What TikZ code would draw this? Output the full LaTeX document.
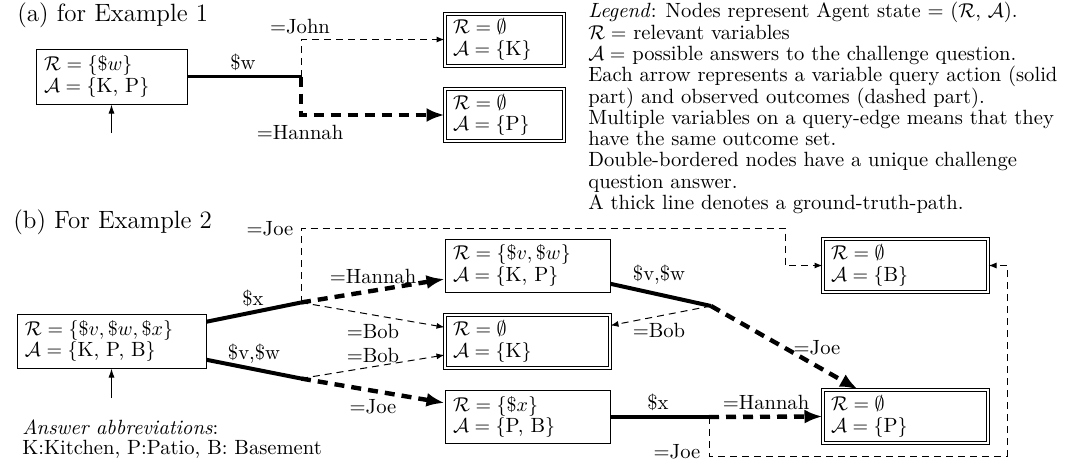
\documentclass[tikz,border=0pt]{standalone}
\usepackage{amsmath}
\usetikzlibrary{arrows.meta,calc}
\begin{document}
\begin{tikzpicture}[x=0.5pt,y=-0.5pt,
  every node/.style={font=\fontsize{10.3}{10.75}\selectfont},
  state/.style={draw, line width=0.5pt, align=left, inner xsep=4pt, inner ysep=0pt},
  unique/.style={state, double, double distance=1pt},
  lbl/.style={inner sep=0pt},
  title/.style={anchor=west, inner sep=0pt, font=\fontsize{12.5}{15}\selectfont},
  gtA/.style={line width=1.4pt},
  gt/.style={line width=2pt},
  gtout/.style={line width=2.2pt, dash pattern=on 5pt off 3.5pt, -{Latex[length=9pt,width=7pt]}},
  outcome/.style={line width=0.5pt, dash pattern=on 3.5pt off 2.5pt, -{Latex[length=4pt,width=3pt]}},
  entry/.style={line width=0.5pt, -{Latex[length=4.5pt,width=3pt]}},
]
\useasboundingbox (0,0) rectangle (1073,461);

% ---------------- (a) Example 1 ----------------
\node[title] (ta) at (17,15) {(a) for Example 1};

\node[state, text width=67.5pt, minimum height=27.5pt] (a0) at (111.5,76.5)
  {$\mathcal{R} = \{\$w\}$\\ $\mathcal{A} = \{\text{K, P}\}$};
\node[unique, text width=51.5pt, minimum height=26pt] (aK) at (504.5,39.5)
  {$\mathcal{R} = \emptyset$\\ $\mathcal{A} = \{\text{K}\}$};
\node[unique, text width=51.5pt, minimum height=26pt] (aP) at (504.5,115)
  {$\mathcal{R} = \emptyset$\\ $\mathcal{A} = \{\text{P}\}$};

\coordinate (ab) at (301,76.5);
\coordinate (a0in) at (111.5,133);

\draw[gtA] (a0) -- (ab);
\draw[outcome] (ab) |- (aK.west);
\draw[gtout] (ab) |- (aP.west);
\draw[entry] (a0in) -- (a0.south);

\node[lbl] (la1) at (243,62) {\$w};
\node[lbl] (la2) at (300,27) {=John};
\node[lbl] (la3) at (300,132) {=Hannah};

% ---------------- legend ----------------
\node[anchor=north west, align=left, inner sep=0pt,
      font=\fontsize{10.3}{10.65}\selectfont] (legend) at (588,2)
  {\textit{Legend}: Nodes represent Agent state = ($\mathcal{R}$, $\mathcal{A}$).\\
   $\mathcal{R} =$ relevant variables\\
   $\mathcal{A} =$ possible answers to the challenge question.\\
   Each arrow represents a variable query action (solid\\
   part) and observed outcomes (dashed part).\\
   Multiple variables on a query-edge means that they\\
   have the same outcome set.\\
   Double-bordered nodes have a unique challenge\\
   question answer.\\
   A thick line denotes a ground-truth-path.};

% ---------------- (b) Example 2 ----------------
\node[title] (tb) at (13,222) {(b) For Example 2};

\node[state, text width=86.5pt, minimum height=27pt] (b0) at (111.5,341)
  {$\mathcal{R} = \{\$v, \$w, \$x\}$\\ $\mathcal{A} = \{\text{K, P, B}\}$};
\node[state, text width=74.5pt, minimum height=26.5pt] (bVW) at (527.5,265.5)
  {$\mathcal{R} = \{\$v, \$w\}$\\ $\mathcal{A} = \{\text{K, P}\}$};
\node[unique, text width=74.5pt, minimum height=26.5pt] (bK) at (527.5,341.5)
  {$\mathcal{R} = \emptyset$\\ $\mathcal{A} = \{\text{K}\}$};
\node[state, text width=74.5pt, minimum height=26.5pt] (bX) at (527.5,417)
  {$\mathcal{R} = \{\$x\}$\\ $\mathcal{A} = \{\text{P, B}\}$};
\node[unique, text width=74.5pt, minimum height=26.5pt] (bB) at (905.5,265.5)
  {$\mathcal{R} = \emptyset$\\ $\mathcal{A} = \{\text{B}\}$};
\node[unique, text width=74.5pt, minimum height=26.5pt] (bP) at (905.5,416.5)
  {$\mathcal{R} = \emptyset$\\ $\mathcal{A} = \{\text{P}\}$};

\coordinate (bu) at (301,302.5);
\coordinate (bl) at (301,378.5);
\coordinate (bm) at (711,306);
\coordinate (bn) at (709,417);
\coordinate (jt) at (785,228);
\coordinate (jr) at (1007,456);
\coordinate (b0in) at (111.5,398);

% queries (solid) and outcomes (dashed)
\draw[gt] (b0) -- (bu);
\draw[gt] (b0) -- (bl);
\draw[outcome] (bu) |- (jt) |- (bB.west);
\draw[gtout] (bu) -- (bVW);
\draw[outcome] (bu) -- (bK);
\draw[outcome] (bl) -- (bK);
\draw[gtout] (bl) -- (bX);

\draw[gt] (bVW) -- (bm);
\draw[outcome] (bm) -- (bK);
\draw[gtout] (bm) -- (bP);

\draw[gt] (bX.east) -- (bn);
\draw[gtout] (bn) -- (bP.west);
\draw[outcome] (bn) |- (jr) |- (bB.east);

\draw[entry] (b0in) -- (b0.south);

\node[lbl] (lb1) at (270,229) {=Joe};
\node[lbl] (lb2) at (253,298) {\$x};
\node[lbl] (lb3) at (254,354) {\$v,\$w};
\node[lbl] (lb4) at (373,276) {=Hannah};
\node[lbl] (lb5) at (373,331) {=Bob};
\node[lbl] (lb6) at (373,355) {=Bob};
\node[lbl] (lb7) at (373,407) {=Joe};
\node[lbl] (lb8) at (659,275) {\$v,\$w};
\node[lbl] (lb9) at (659,330) {=Bob};
\node[lbl] (lb10) at (658,402) {\$x};
\node[lbl] (lb11) at (766,402) {=Hannah};
\node[lbl] (lb12) at (817,348) {=Joe};
\node[lbl] (lb13) at (677,452) {=Joe};

\node[anchor=north west, align=left, inner sep=0pt,
      font=\fontsize{10.3}{10}\selectfont] (abbr) at (22,419)
  {\textit{Answer abbreviations}:\\ K:Kitchen, P:Patio, B: Basement};
\end{tikzpicture}
\end{document}
